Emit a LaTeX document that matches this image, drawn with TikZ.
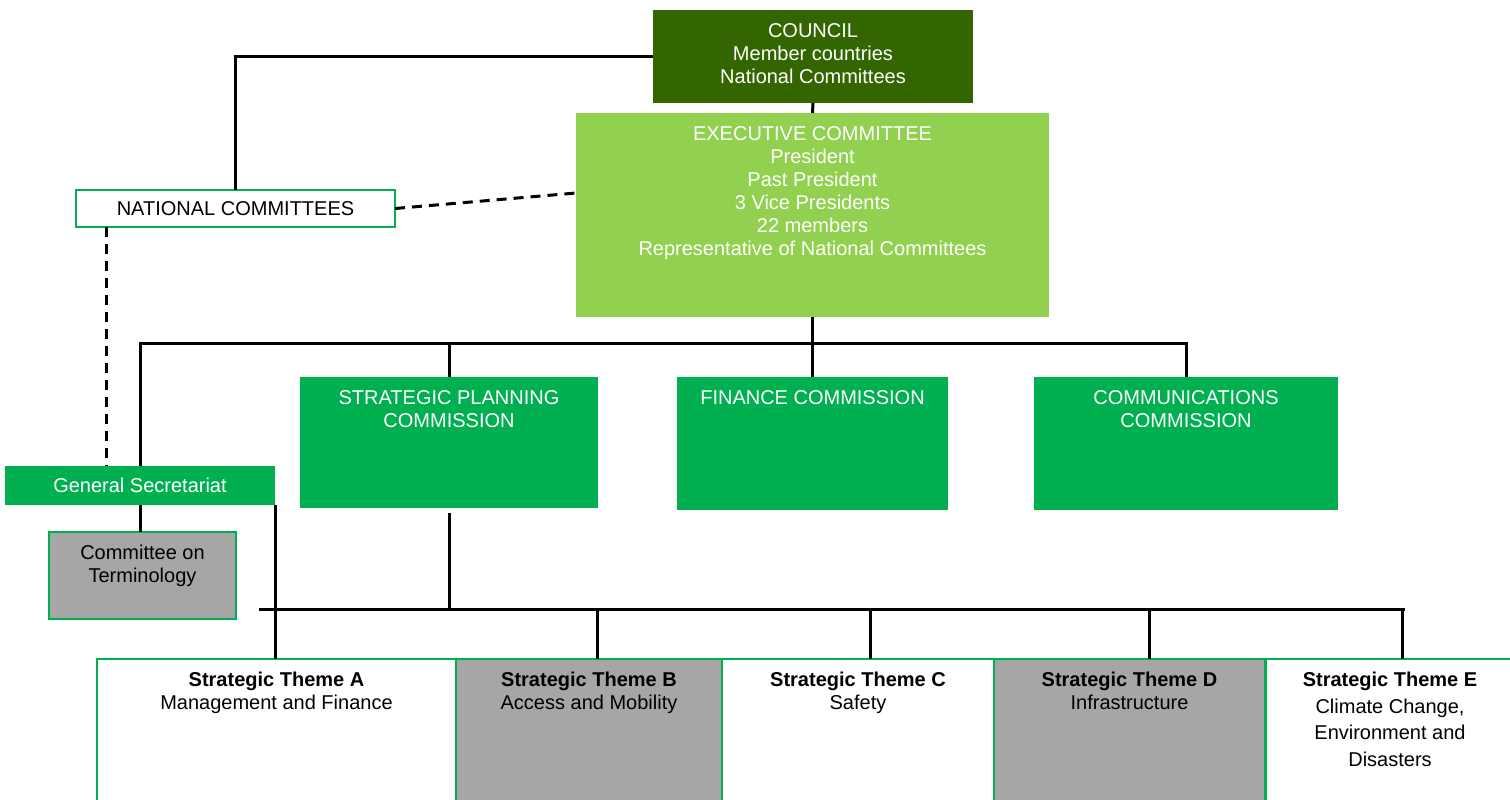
\documentclass[tikz,border=0pt]{standalone}
\usepackage{fontspec}
\setmainfont{Liberation Sans}
\usepackage{xcolor}
\usepackage{tikz}

\definecolor{CouncilGreen}{HTML}{336600}
\definecolor{ExecGreen}{HTML}{92D050}
\definecolor{BoxGreen}{HTML}{00B050}
\definecolor{ThemeGrey}{HTML}{A6A6A6}

\begin{document}
\begin{tikzpicture}[x=1pt, y=-1pt,
	box/.style={anchor=north west, inner sep=0pt, outer sep=0pt, font=\fontsize{20}{23}\selectfont},
	toptext/.style={anchor=north, yshift=-13pt, align=center, inner sep=0pt, font=\fontsize{20}{23}\selectfont},
	link/.style={line width=3pt},
	dashlink/.style={line width=3pt, dash pattern=on 10pt off 7pt}]
	\useasboundingbox (0,0) rectangle (1510,800);

	\node[box, fill=CouncilGreen, minimum width=320, minimum height=93, label={[toptext, text=white]north:{COUNCIL\\Member countries\\National Committees}}] (council) at (653,10) {};
	\node[box, fill=ExecGreen, minimum width=473, minimum height=204, label={[toptext, text=white]north:{EXECUTIVE COMMITTEE\\President\\Past President\\3 Vice Presidents\\22 members\\Representative of National Committees}}] (exec) at (576,113) {};
	\node[box, draw=BoxGreen, line width=1.5pt, fill=white, minimum width=319, minimum height=37] (natc) at (76,190) {NATIONAL COMMITTEES};

	\node[box, fill=BoxGreen, minimum width=298, minimum height=131, label={[toptext, text=white]north:{STRATEGIC PLANNING\\COMMISSION}}] (spc) at (300,377) {};
	\node[box, fill=BoxGreen, minimum width=271, minimum height=133, label={[toptext, text=white]north:{FINANCE COMMISSION}}] (fin) at (677,377) {};
	\node[box, fill=BoxGreen, minimum width=304, minimum height=133, label={[toptext, text=white]north:{COMMUNICATIONS\\COMMISSION}}] (comm) at (1034,377) {};

	\node[box, fill=BoxGreen, text=white, minimum width=270, minimum height=39] (gensec) at (5,466) {General Secretariat};
	\node[box, draw=BoxGreen, line width=1.5pt, fill=ThemeGrey, minimum width=187, minimum height=87, label={[toptext]north:{Committee on\\Terminology}}] (term) at (49,532) {};

	\node[box, draw=BoxGreen, line width=1.5pt, fill=white, minimum width=359, minimum height=150, label={[toptext]north:{{\bfseries Strategic Theme A}\\Management and Finance}}] (thA) at (97,659) {};
	\node[box, draw=BoxGreen, line width=1.5pt, fill=ThemeGrey, minimum width=266, minimum height=150, label={[toptext]north:{{\bfseries Strategic Theme B}\\Access and Mobility}}] (thB) at (456,659) {};
	\node[box, draw=BoxGreen, line width=1.5pt, fill=white, minimum width=272, minimum height=150, label={[toptext]north:{{\bfseries Strategic Theme C}\\Safety}}] (thC) at (722,659) {};
	\node[box, draw=BoxGreen, line width=1.5pt, fill=ThemeGrey, minimum width=271, minimum height=150, label={[toptext]north:{{\bfseries Strategic Theme D}\\Infrastructure}}] (thD) at (994,659) {};
	\node[box, draw=BoxGreen, line width=1.5pt, fill=white, minimum width=248, minimum height=150, label={[toptext, font=\fontsize{20}{26.5}\selectfont]north:{{\bfseries Strategic Theme E}\\Climate Change,\\Environment and\\Disasters}}] (thE) at (1266,659) {};

	% links at the top
	\draw[link] (council.west) -| (natc.north);
	\draw[link] (council.south) -- (exec.north);
	\draw[dashlink] (natc.east) -- ([yshift=22pt]exec.west);
	\draw[dashlink] ([xshift=30pt]natc.south west) -- ([xshift=30pt]natc.south west |- gensec.north);

	% commissions
	\coordinate (bus) at (0,343);
	\draw[link] (exec.south) -- (fin.north);
	\draw[link] (gensec.north) |- (bus -| comm.north) -- (comm.north);
	\draw[link] (bus -| spc.north) -- (spc.north);
	\draw[link] (gensec.south) -- (gensec.south |- term.north);

	% themes
	\coordinate (theme west) at (259,609);
	\coordinate (theme east) at (1405,609);
	\draw[link] (theme west) -- (theme east);
	\draw[link] ([yshift=-5pt]spc.south) -- (spc.south |- theme west);
	\draw[link] (gensec.south east) -- (gensec.south east |- thA.north);
	\foreach \t/\dx in {thB/8, thC/12, thD/20, thE/12}
		\draw[link] ([xshift=\dx pt]\t.north |- theme west) -- ([xshift=\dx pt]\t.north);

\end{tikzpicture}
\end{document}
